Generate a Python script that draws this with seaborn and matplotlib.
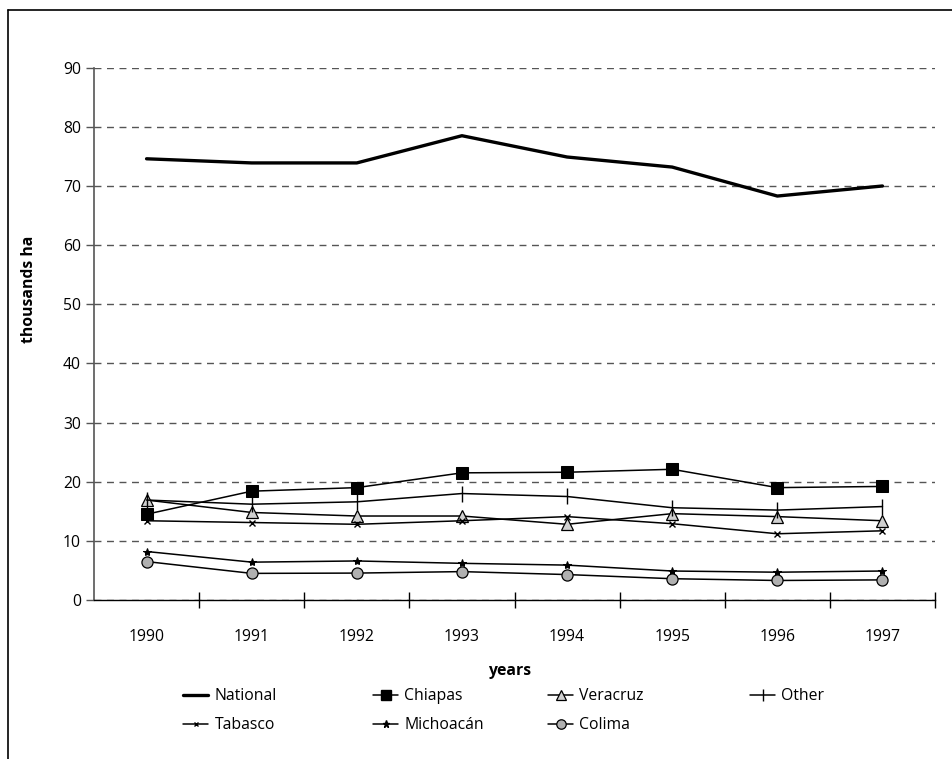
import matplotlib
matplotlib.use("Agg")
import matplotlib.pyplot as plt
from matplotlib.lines import Line2D
import seaborn as sns
import pandas as pd

years = ["1990", "1991", "1992", "1993", "1994", "1995", "1996", "1997"]
national = [74.6, 73.9, 73.9, 78.5, 74.9, 73.2, 68.3, 70.0]
chiapas = [14.5, 18.4, 19.0, 21.5, 21.6, 22.1, 19.0, 19.2]
veracruz = [16.9, 14.8, 14.2, 14.2, 12.8, 14.6, 14.1, 13.4]
other = [16.9, 16.2, 16.6, 18.0, 17.5, 15.6, 15.2, 15.8]
tabasco = [13.4, 13.1, 12.8, 13.4, 14.1, 12.9, 11.2, 11.7]
michoacan = [8.2, 6.4, 6.6, 6.2, 5.9, 4.9, 4.7, 4.9]
colima = [6.5, 4.5, 4.55, 4.8, 4.3, 3.6, 3.3, 3.4]

y_ticks = [0, 10, 20, 30, 40, 50, 60, 70, 80, 90]

sns.set_theme(style="white")
plt.rcParams["font.family"] = ["Open Sans", "DejaVu Sans"]
plt.rcParams["text.color"] = "black"
plt.rcParams["axes.labelcolor"] = "black"
plt.rcParams["xtick.color"] = "black"
plt.rcParams["ytick.color"] = "black"
FS = 11.3

fig = plt.figure(figsize=(9.52, 7.59), dpi=100)
ax = fig.add_axes([94 / 952, 1 - 600 / 759, (935 - 94) / 952, (600 - 67.7) / 759])

xs = list(range(len(years)))
series = [
    ("National", national, dict(color="black", lw=2.4, marker=None)),
    ("Chiapas", chiapas, dict(color="black", lw=1.1, marker="s", ms=8, mfc="black", mec="black")),
    ("Veracruz", veracruz, dict(color="black", lw=1.1, marker="^", ms=9, mfc="#d0d0d0", mec="black", mew=0.9)),
    ("Other", other, dict(color="black", lw=1.1, marker="|", ms=11, mec="black", mew=1.0)),
    ("Tabasco", tabasco, dict(color="black", lw=1.1, marker="x", ms=4, mec="black", mew=1.0)),
    ("Michoacán", michoacan, dict(color="black", lw=1.1, marker="*", ms=6, mfc="black", mec="black")),
    ("Colima", colima, dict(color="black", lw=1.1, marker="o", ms=8, mfc="#b0b0b0", mec="black", mew=0.9)),
]

handles = {}
for name, vals, st in series:
    df = pd.DataFrame({"x": xs, "y": vals})
    kw = dict(color=st["color"], linewidth=st["lw"])
    mk = st.get("marker")
    sns.lineplot(data=df, x="x", y="y", ax=ax, sort=False, legend=False, **kw)
    line = ax.lines[-1]
    if mk:
        line.set_marker(mk)
        line.set_markersize(st["ms"])
        if "mfc" in st:
            line.set_markerfacecolor(st["mfc"])
        line.set_markeredgecolor(st["mec"])
        if "mew" in st:
            line.set_markeredgewidth(st["mew"])
    handles[name] = Line2D([], [], color=st["color"], linewidth=st["lw"], marker=mk if mk else None,
                           markersize=st.get("ms", 0) * 0.85 if mk else 0,
                           markerfacecolor=st.get("mfc", "black"),
                           markeredgecolor=st.get("mec", "black"),
                           markeredgewidth=st.get("mew", 1.0))

ax.set_xlim(-0.5, len(years) - 0.5)
ax.set_ylim(0, 90)
ax.set_yticks(y_ticks)
ax.set_yticklabels([str(v) for v in y_ticks], fontsize=FS)
ax.set_xticks(xs)
ax.set_xticklabels(years, fontsize=FS)
ax.set_xticks([i + 0.5 for i in xs], minor=True)
ax.tick_params(axis="x", which="major", length=0, pad=21)
ax.tick_params(axis="x", which="minor", direction="inout", length=12, width=1.0, color="black", bottom=True)
ax.tick_params(axis="y", which="major", direction="out", length=5.5, width=1.0, color="#555555", pad=4, left=True)

ax.grid(False)
ax.yaxis.grid(True, linestyle=(0, (5, 4)), color="#555555", linewidth=1.0)
ax.set_axisbelow(True)
for s in ["top", "right"]:
    ax.spines[s].set_visible(False)
ax.spines["left"].set_color("#555555")
ax.spines["left"].set_linewidth(1.2)
ax.spines["bottom"].set_color("black")
ax.spines["bottom"].set_linewidth(1.0)

ax.set_xlabel("years", fontsize=FS, fontweight="bold")
ax.xaxis.set_label_coords(0.494, -(663 - 600) / 532.3)
ax.set_ylabel("thousands ha", fontsize=FS, fontweight="bold")
ax.yaxis.set_label_coords(-(94 - 37) / 841, (600 - 289) / 532.3)

# legend columns
cols = [
    (["National", "Tabasco"], 183),
    (["Chiapas", "Michoacán"], 373),
    (["Veracruz", "Colima"], 548),
    (["Other"], 750),
]
for names, xpx in cols:
    fig.legend([handles[n] for n in names], names, loc="upper left",
               bbox_to_anchor=(xpx / 952, 1 - 688 / 759), frameon=False,
               fontsize=FS, borderpad=0, borderaxespad=0, handlelength=1.6,
               handletextpad=0.4, labelspacing=0.85)

# outer frame (left and top)
fig.add_artist(Line2D([8 / 952, 8 / 952], [0, 1 - 10 / 759], transform=fig.transFigure, color="black", lw=1.2))
fig.add_artist(Line2D([8 / 952, 1], [1 - 10 / 759, 1 - 10 / 759], transform=fig.transFigure, color="black", lw=1.2))

fig.savefig("out.png", dpi=100)
